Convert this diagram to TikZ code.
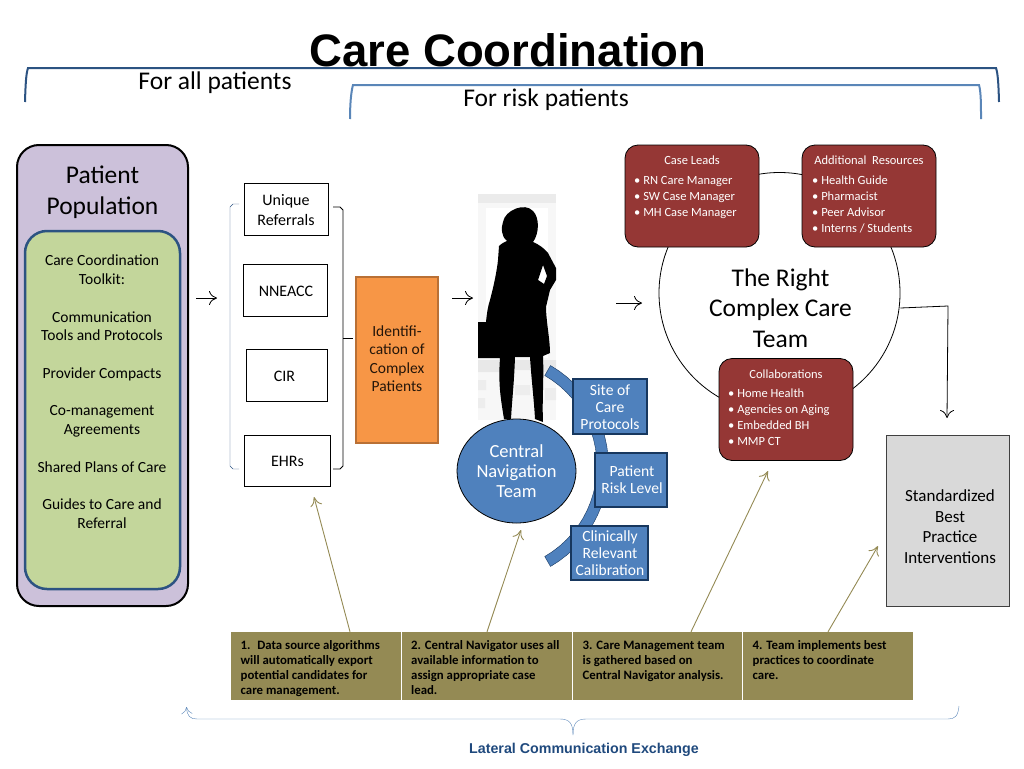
\documentclass[tikz,border=0pt]{standalone}
\usepackage{fontspec}
\setmainfont{Carlito}
\newfontfamily\headfont{Liberation Sans}
\usetikzlibrary{positioning}
\usetikzlibrary{shapes.geometric}
\usetikzlibrary{arrows.meta}

\definecolor{panelpurple}{HTML}{CCC1DA}
\definecolor{panelgreen}{HTML}{C3D69B}
\definecolor{navyline}{HTML}{2C5382}
\definecolor{skyline}{HTML}{5A86B8}
\definecolor{teamred}{HTML}{953735}
\definecolor{navblue}{HTML}{4F81BD}
\definecolor{navedge}{HTML}{17375E}
\definecolor{olivebox}{HTML}{948A54}
\definecolor{orangebox}{HTML}{F79646}
\definecolor{orangeedge}{HTML}{B97035}
\definecolor{lateral}{HTML}{1F497D}

\tikzset{
  srcbox/.style={draw=black,thick,fill=white,inner sep=0pt,align=center},
  srctext/.style={inner sep=0pt,align=center,font=\fontsize{16}{20}\selectfont},
  redbox/.style={draw=black,thick,fill=teamred,rounded corners=13pt,minimum width=134pt,minimum height=102pt},
  redtext/.style={text=white,inner sep=0pt,align=left,font=\fontsize{12.5}{16}\selectfont},
  bluebox/.style={draw=navedge,line width=1.2pt,fill=navblue,inner sep=0pt},
  bluetext/.style={text=white,inner sep=0pt,align=center,font=\fontsize{15.6}{17}\selectfont},
  stepbox/.style={fill=olivebox,minimum height=68pt,inner sep=0pt},
  steptext/.style={anchor=north west,inner sep=0pt,align=left,font=\fontsize{12.8}{15.2}\selectfont\bfseries},
  steparrow/.style={draw=olivebox,line width=0.9pt,-{To[length=9pt,width=12pt]}},
  flowarrow/.style={-{To[length=8pt,width=14pt]},thick},
}

\begin{document}
\begin{tikzpicture}[x=1pt,y=-1pt]
  \useasboundingbox (0,0) rectangle (1024,768);

  % header and the two long brackets
  \node[inner sep=0pt,font=\fontsize{45.5}{45.5}\selectfont\headfont\bfseries] (title) at (508,50.5) {Care Coordination};
  \draw[navyline,line width=2pt] (25,102) .. controls (25.5,85) and (26,74) .. (28,68) -- (996,68) .. controls (998,74) and (998.5,85) .. (999,102);
  \draw[skyline,line width=2pt] (350,119) .. controls (350,105) and (351,92) .. (353,85) -- (979,85) .. controls (981,92) and (981,105) .. (981,119);
  \node[inner sep=0pt,font=\fontsize{25.5}{25.5}\selectfont] (allpat) at (215,83) {For all patients};
  \node[inner sep=0pt,font=\fontsize{25.5}{25.5}\selectfont] (riskpat) at (546,100) {For risk patients};

  % patient population panel
  \node[draw=black,line width=2pt,fill=panelpurple,rounded corners=22pt,minimum width=171pt,minimum height=461pt] (popul) at (102.5,375.5) {};
  \node[inner sep=0pt,align=center,font=\fontsize{25.5}{31}\selectfont] (popultxt) at (102.5,192) {Patient\\Population};
  \node[draw=navyline,line width=2.5pt,fill=panelgreen,rounded corners=22pt,minimum width=155pt,minimum height=358pt] (toolkit) at (102.5,410) {};
  \node[anchor=north,inner sep=0pt,align=center,font=\fontsize{15.5}{18.75}\selectfont] (toolkittxt) at (102,255) {Care Coordination\\Toolkit:\\[18.75pt]Communication\\Tools and Protocols\\[18.75pt]Provider Compacts\\[18.75pt]Co-management\\Agreements\\[18.75pt]Shared Plans of Care\\[18.75pt]Guides to Care and\\Referral};

  % data sources and their brackets
  \node[srcbox,minimum width=84pt,minimum height=52pt] (referrals) at (286,209) {};
  \node[srcbox,minimum width=84pt,minimum height=52pt] (nneacc) at (285.5,290) {};
  \node[srcbox,minimum width=81pt,minimum height=52pt] (cir) at (286.5,375) {};
  \node[srcbox,minimum width=86pt,minimum height=51pt] (ehrs) at (287,460.5) {};
  \node[srctext] (referralstxt) at (286,210) {Unique\\Referrals};
  \node[srctext] (nneacctxt) at (286,291) {NNEACC};
  \node[srctext] (cirtxt) at (284.5,376) {CIR};
  \node[srctext] (ehrstxt) at (287.5,461.5) {EHRs};
  \draw[navyline] (239,204) -- (233,204) -- (230,207) -- (230,466) -- (233,469) -- (239,469);
  \draw[black,thick] (333,207) -- (340,207) -- (343,210) -- (343,466) -- (340,469) -- (333,469);
  \node[draw=orangeedge,line width=2pt,fill=orangebox,minimum width=82pt,minimum height=166pt,inner sep=0pt] (identify) at (397,360) {};
  \node[inner sep=0pt,align=center,text=black!85!orangebox,font=\fontsize{15.5}{18.5}\selectfont] (identifytxt) at (397,358.5) {Identifi-\\cation of\\Complex\\Patients};
  \coordinate (tick) at (353,338);
  \draw[black,thick] (343,338) -- (tick);

  % silhouette
  \fill[gray!6] (478,194) rectangle (556,420);
  \fill[gray!16] (478,194) rectangle (556,203);
  \fill[white] (486,208) rectangle (548,358);
  \fill[gray!18] (478,360) rectangle (500,372) (513,360) rectangle (530,370) (543,360) rectangle (556,372);
  \fill[gray!14] (478,380) rectangle (486,390) (478,398) rectangle (485,408) (515,385) rectangle (530,395) (545,388) rectangle (556,400);
  \fill[black,even odd rule] (504,419) .. controls (501,400) and (498,385) .. (500,358)
      -- (478,358) -- (478,322) -- (486,322) .. controls (487,312) and (488,306) .. (490,300)
      .. controls (494,285) and (497,270) .. (498,260) -- (499,246) .. controls (502,243) and (505,242) .. (507,241)
      .. controls (501,236) and (501,228) .. (503,222) .. controls (505,210) and (525,202) .. (533,211)
      .. controls (540,218) and (539,234) .. (533,242) .. controls (538,244) and (544,248) .. (548,253)
      -- (556,268) -- (556,280) -- (550,290) -- (546,307)
      .. controls (546,320) and (550,340) .. (550,353) -- (543,356)
      .. controls (544,380) and (542,400) .. (543,422) -- (535,419)
      .. controls (534,400) and (531,375) .. (530,357) -- (515,357)
      .. controls (514,385) and (512,400) .. (511,419) -- cycle
      (543,265) -- (538,280) -- (544,284) -- (547,276) -- cycle;

  % central navigation and the band behind its boxes
  \draw[navedge,fill=navblue] plot[domain=-60:60,samples=25] ({492.5+116*cos(\x)},{466+116*sin(\x)})
      -- plot[domain=60:-60,samples=25] ({492.5+104.5*cos(\x)},{466+104.5*sin(\x)}) -- cycle;
  \node[ellipse,draw=black,thick,fill=navblue,text=white,minimum width=119pt,minimum height=104pt,inner sep=0pt,align=center,font=\fontsize{18.5}{20}\selectfont] (central) at (516.5,471) {Central\\Navigation\\Team};
  \node[bluebox,minimum width=74pt,minimum height=55pt] (site) at (610,406.5) {};
  \node[bluebox,minimum width=72pt,minimum height=54pt] (risk) at (631,480) {};
  \node[bluebox,minimum width=77pt,minimum height=54pt] (clinical) at (609.5,553) {};
  \node[bluetext] (sitetxt) at (610,407) {Site of\\Care\\Protocols};
  \node[bluetext] (risktxt) at (632,480) {Patient\\Risk Level};
  \node[bluetext] (clinicaltxt) at (610,553) {Clinically\\Relevant\\Calibration};

  % the right team
  \node[circle,draw=black,thick,minimum size=241pt,inner sep=0pt] (team) at (779.5,293) {};
  \node[inner sep=0pt,align=center,font=\fontsize{25.5}{30.5}\selectfont] (teamtxt) at (780.5,308) {The Right\\Complex Care\\Team};
  \node[redbox] (leads) at (692,196) {};
  \node[redtext] (leadshead) at (692,160) {Case Leads};
  \node[redtext,anchor=north west] (leadslist) at (634,176) {• RN Care Manager\\• SW Case Manager\\• MH Case Manager};
  \node[redbox] (extras) at (869,196) {};
  \node[redtext] (extrashead) at (869,160) {Additional~ Resources};
  \node[redtext,anchor=north west] (extraslist) at (812,176) {• Health Guide\\• Pharmacist\\• Peer Advisor\\• Interns / Students};
  \node[redbox] (collab) at (786,409.5) {};
  \node[redtext] (collabhead) at (786,374) {Collaborations};
  \node[redtext,anchor=north west] (collablist) at (728,389) {• Home Health\\• Agencies on Aging\\• Embedded BH\\• MMP CT};

  \node[draw=black!75,thick,fill=black!15,minimum width=123pt,minimum height=171pt,inner sep=0pt] (bestpr) at (947.5,520.5) {};
  \node[inner sep=0pt,align=center,font=\fontsize{17}{20.5}\selectfont] (bestprtxt) at (950,526.5) {Standardized\\Best\\Practice\\Interventions};

  % flow arrows
  \coordinate (in1) at (196,298);
  \coordinate (out1) at (217,298);
  \coordinate (in2) at (452,298);
  \coordinate (out2) at (473,298);
  \coordinate (in3) at (616,303);
  \coordinate (out3) at (642,303);
  \draw[flowarrow] (in1) -- (out1);
  \draw[flowarrow] (in2) -- (out2);
  \draw[flowarrow] (in3) -- (out3);
  \coordinate (bend) at (948,306);
  \coordinate (down) at (947,418);
  \draw[flowarrow] (team.east |- 0,308) -- (bend) -- (down);

  % numbered steps
  \node[stepbox,minimum width=170pt] (step1) at (316,666) {};
  \node[stepbox,minimum width=170pt] (step2) at (487,666) {};
  \node[stepbox,minimum width=169pt] (step3) at (657.5,666) {};
  \node[stepbox,minimum width=170pt] (step4) at (828,666) {};
  \node[steptext] (step1txt) at (240.5,639) {\rule{0pt}{10pt}1.~ Data source algorithms\\will automatically export\\potential candidates for\\care management.};
  \node[steptext] (step2txt) at (411,639) {\rule{0pt}{10pt}2. Central Navigator uses all\\available information to\\assign appropriate case\\lead.};
  \node[steptext] (step3txt) at (582.5,639) {\rule{0pt}{10pt}3. Care Management team\\is gathered based on\\Central Navigator analysis.};
  \node[steptext] (step4txt) at (752.5,639) {\rule{0pt}{10pt}4. Team implements best\\practices to coordinate\\care.};
  \coordinate (tip1) at (314,497);
  \coordinate (tip2) at (521,530);
  \coordinate (tip3) at (768,471);
  \coordinate (tip4) at (878,546);
  \draw[steparrow] ([xshift=34pt]step1.north) -- (tip1);
  \draw[steparrow] (step2.north) -- (tip2);
  \draw[steparrow] ([xshift=33.5pt]step3.north) -- (tip3);
  \draw[steparrow] (step4.north) -- (tip4);

  % lateral exchange
  \coordinate (brace) at (573,735);
  \draw[skyline,-{To[length=7pt,width=11pt]}] (brace) .. controls (573,724) and (570,719) .. (560,719) -- (197,719) .. controls (190,719) and (187,716) .. (186.5,707);
  \draw[skyline] (brace) .. controls (573,724) and (576,719) .. (586,719) -- (948,719) .. controls (955,719) and (958,716) .. (959,706);
  \node[inner sep=0pt,text=lateral,font=\fontsize{14.25}{16}\selectfont\headfont\bfseries] (lateraltxt) at (584,749.5) {Lateral Communication Exchange};
\end{tikzpicture}
\end{document}
